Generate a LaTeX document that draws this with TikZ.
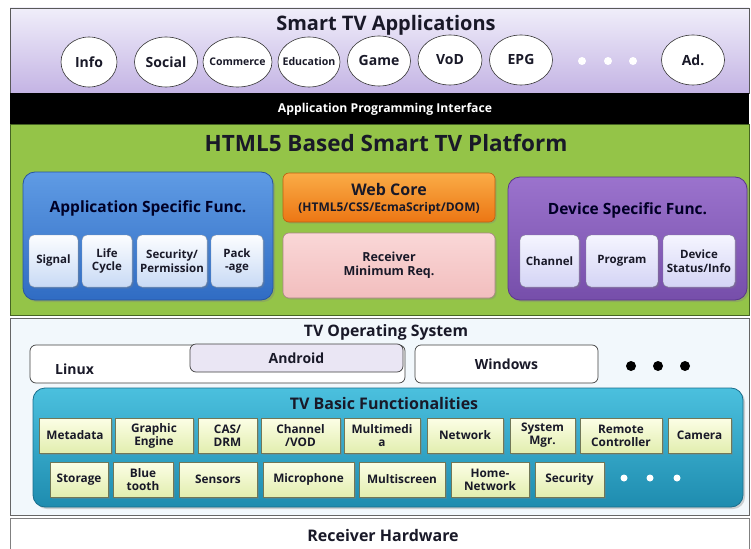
\documentclass[tikz,border=0pt]{standalone}
\usepackage{fontspec}
\setmainfont{Open Sans}
\usetikzlibrary{shadows,shapes.geometric}
\definecolor{lavTop}{RGB}{240,238,250}
\definecolor{lavBot}{RGB}{196,180,228}
\definecolor{grn}{RGB}{148,196,72}
\definecolor{grnB}{RGB}{70,100,35}
\definecolor{bluT}{RGB}{95,155,228}
\definecolor{bluB}{RGB}{48,108,195}
\definecolor{bluD}{RGB}{40,85,160}
\definecolor{sbT}{RGB}{252,253,255}
\definecolor{sbB}{RGB}{200,218,245}
\definecolor{orT}{RGB}{250,172,70}
\definecolor{orB}{RGB}{236,118,20}
\definecolor{pkT}{RGB}{250,215,215}
\definecolor{pkB}{RGB}{242,190,190}
\definecolor{puT}{RGB}{155,115,205}
\definecolor{puB}{RGB}{118,78,170}
\definecolor{puD}{RGB}{90,55,140}
\definecolor{slT}{RGB}{245,245,255}
\definecolor{slB}{RGB}{212,212,245}
\definecolor{osBg}{RGB}{242,248,252}
\definecolor{andr}{RGB}{234,230,244}
\definecolor{cyT}{RGB}{75,192,222}
\definecolor{cyB}{RGB}{30,140,175}
\definecolor{cyD}{RGB}{25,110,140}
\definecolor{ygT}{RGB}{252,254,230}
\definecolor{ygB}{RGB}{226,238,175}
\definecolor{txt}{RGB}{25,25,40}
\tikzset{
  band/.style={draw=black!70, line width=0.8pt},
  lbl/.style={font=\bfseries, text=txt, inner sep=0pt},
  app/.style={ellipse, draw=black!80, fill=white, line width=0.6pt, inner sep=0pt, minimum height=50pt},
  apptext/.style={lbl, font=\bfseries\fontsize{14}{16}\selectfont},
  bigbox/.style={rounded corners=12pt, line width=0.8pt, drop shadow={opacity=0.35, shadow xshift=2pt, shadow yshift=-2pt}},
  midbox/.style={rounded corners=6pt, line width=0.6pt, drop shadow={opacity=0.3, shadow xshift=1.5pt, shadow yshift=-1.5pt}, align=center, text=txt, inner sep=0pt},
  subb/.style={rounded corners=5pt, draw=sbB!70!black, top color=sbT, bottom color=sbB, minimum height=52pt, inner sep=0pt, align=center, font=\bfseries\fontsize{11.5}{13.5}\selectfont, text=txt, drop shadow={opacity=0.3, shadow xshift=1.5pt, shadow yshift=-1.5pt}},
  subl/.style={subb, draw=slB!60!black, top color=slT, bottom color=slB},
  fb/.style={draw=ygB!50!black, line width=0.4pt, top color=ygT, bottom color=ygB, minimum height=35pt, inner sep=0pt, align=center, font=\bfseries\fontsize{11.8}{13}\selectfont, text=txt, drop shadow={opacity=0.35, shadow xshift=1.5pt, shadow yshift=-1.5pt}},
  osbox/.style={draw=black!75, line width=0.7pt, rounded corners=6pt, inner sep=0pt, font=\bfseries\fontsize{14}{16}\selectfont, text=txt},
}
\begin{document}
\begin{tikzpicture}[x=1pt,y=-1pt]
\useasboundingbox (0,0) rectangle (751,548);
\fill[white] (0,0) rectangle (751,548);
% bands
\shade[top color=lavTop, bottom color=lavBot, draw=black!65, line width=0.8pt] (10,8) rectangle (749,93);
\fill[black] (10,93) rectangle (749,124);
\draw[band, fill=grn, draw=grnB] (10,124) rectangle (749,315);
\draw[band, fill=osBg, draw=black!60] (10,318) rectangle (749,515);
\draw[band, fill=white, draw=black!50] (10,518) rectangle (749,552);

% top band
\node[lbl, font=\bfseries\fontsize{20}{23}\selectfont] (tApps) at (386,25) {Smart TV Applications};
\node[app, minimum width=56pt] (eInfo) at (89,62) {};
\node[apptext] (tInfo) at (eInfo) {Info};
\node[app, minimum width=63pt] (eSocial) at (166,62) {};
\node[apptext] (tSocial) at (eSocial) {Social};
\node[app, minimum width=69pt] (eCom) at (237.5,62) {};
\node[apptext, font=\bfseries\fontsize{10.5}{12}\selectfont] (tCom) at (eCom) {Commerce};
\node[app, minimum width=62pt] (eEdu) at (309,62) {};
\node[apptext, font=\bfseries\fontsize{10.6}{12}\selectfont] (tEdu) at (eEdu) {Education};
\node[app, minimum width=63pt] (eGame) at (379,61) {};
\node[apptext] (tGame) at (eGame) {Game};
\node[app, minimum width=64pt] (eVoD) at (450,60) {};
\node[apptext] (tVoD) at (eVoD) {VoD};
\node[app, minimum width=63pt] (eEPG) at (521,60) {};
\node[apptext] (tEPG) at (eEPG) {EPG};
\node[app, minimum width=63pt] (eAd) at (693,60) {};
\node[apptext] (tAd) at (eAd) {Ad.};
\foreach \x in {582,608,633} \fill[white] (\x,61) circle (4pt);

% API
\node[lbl, text=white, font=\bfseries\fontsize{12.2}{14}\selectfont] (api) at (385,109) {Application Programming Interface};

% platform
\node[lbl, font=\bfseries\fontsize{22.5}{26}\selectfont] (tPlat) at (386,143) {HTML5 Based Smart TV Platform};

\node[bigbox, draw=bluD, top color=bluT, bottom color=bluB, minimum width=250pt, minimum height=128pt, inner sep=0pt] (asf) at (148,236) {};
\node[lbl, font=\bfseries\fontsize{15.5}{18}\selectfont, text=black!85!blue] (tAsf) at (148,208) {Application Specific Func.};
\node[subb, minimum width=49pt] (sSignal) at (53.5,261) {Signal};
\node[subb, minimum width=50pt] (sLife) at (107,261) {Life\\Cycle};
\node[subb, minimum width=70pt] (sSec) at (172,261) {Security/\\Permission};
\node[subb, minimum width=52pt] (sPack) at (237,261) {Pack\\-age};

\node[midbox, draw=orB!80!black, top color=orT, bottom color=orB, minimum width=212pt, minimum height=49pt] (web) at (389,197.5) {};
\node[lbl, font=\bfseries\fontsize{16}{18}\selectfont] (tWeb) at (389,189) {Web Core};
\node[lbl, font=\bfseries\fontsize{12}{14}\selectfont] (tWeb2) at (389,208) {(HTML5/CSS/EcmaScript/DOM)};
\node[midbox, draw=pkB!70!black, top color=pkT, bottom color=pkB, minimum width=212pt, minimum height=65pt, font=\bfseries\fontsize{12.5}{14.5}\selectfont] (rmin) at (389,265.5) {Receiver\\Minimum Req.};

\node[bigbox, draw=puD, top color=puT, bottom color=puB, minimum width=239pt, minimum height=123pt, inner sep=0pt] (dsf) at (627.5,238.5) {};
\node[lbl, font=\bfseries\fontsize{15.5}{18}\selectfont, text=black!85!blue] (tDsf) at (627.5,210) {Device Specific Func.};
\node[subl, minimum width=59pt] (sChan) at (549.5,261) {Channel};
\node[subl, minimum width=72pt] (sProg) at (622,261) {Program};
\node[subl, minimum width=72pt] (sDev) at (699,261) {Device\\Status/Info};

% OS
\node[lbl, font=\bfseries\fontsize{15.8}{18}\selectfont] (tOS) at (386,332) {TV Operating System};
\node[osbox, fill=white, minimum width=375pt, minimum height=38pt] (linux) at (217.5,364) {};
\node[lbl, font=\bfseries\fontsize{14}{16}\selectfont, anchor=west] (tLinux) at (55,369) {Linux};
\node[osbox, fill=andr, minimum width=213pt, minimum height=28pt] (android) at (296.5,358) {Android};
\node[osbox, fill=white, minimum width=183pt, minimum height=38pt] (windows) at (506.5,364) {Windows};
\foreach \x in {631,658,685} \fill[black] (\x,366) circle (5pt);

\node[bigbox, draw=cyD, top color=cyT, bottom color=cyB, minimum width=710pt, minimum height=119pt, inner sep=0pt] (basic) at (388,447.5) {};
\node[lbl, font=\bfseries\fontsize{16}{18}\selectfont] (tBasic) at (384,403) {TV Basic Functionalities};
% row 1
\node[fb, minimum width=72pt] (fMeta) at (75,435.5) {Metadata};
\node[fb, minimum width=78pt] (fGraph) at (154,435.5) {Graphic\\Engine};
\node[fb, minimum width=59pt] (fCas) at (227.5,435.5) {CAS/\\DRM};
\node[fb, minimum width=79pt] (fChan) at (300.5,435.5) {Channel\\/VOD};
\node[fb, minimum width=76pt] (fMulti) at (382,435.5) {Multimedi\\a};
\node[fb, minimum width=76pt] (fNet) at (465,435.5) {Network};
\node[fb, minimum width=65pt] (fSys) at (542.5,435.5) {System\\Mgr.};
\node[fb, minimum width=82pt] (fRem) at (621,435.5) {Remote\\Controller};
\node[fb, minimum width=63pt] (fCam) at (699.5,435.5) {Camera};
% row 2
\node[fb, minimum width=58pt] (fStor) at (79,479.5) {Storage};
\node[fb, minimum width=60pt] (fBlue) at (143,479.5) {Blue\\tooth};
\node[fb, minimum width=78pt] (fSens) at (218,479.5) {Sensors};
\node[fb, minimum width=91pt] (fMic) at (308.5,479.5) {Microphone};
\node[fb, minimum width=86pt] (fMs) at (402,479.5) {Multiscreen};
\node[fb, minimum width=78pt] (fHome) at (490,479.5) {Home-\\Network};
\node[fb, minimum width=69pt] (fSecu) at (569.5,479.5) {Security};
\foreach \x in {624,650,677} \fill[white] (\x,478) circle (3.5pt);

% hardware
\node[lbl, font=\bfseries\fontsize{16}{18}\selectfont] (tHw) at (383,535) {Receiver Hardware};
\end{tikzpicture}
\end{document}
